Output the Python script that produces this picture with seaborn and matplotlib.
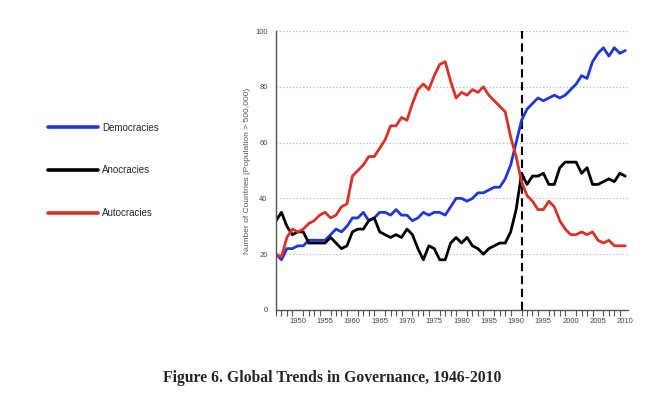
import numpy as np
import pandas as pd
import seaborn as sns
import matplotlib
matplotlib.use("Agg")
import matplotlib.pyplot as plt
from matplotlib.ticker import MultipleLocator

years = list(range(1946, 2011))
democracies = [20, 18, 22, 22, 23, 23, 25, 25, 25, 25,
               27, 29, 28, 30, 33, 33, 35, 32, 33, 35,
               35, 34, 36, 34, 34, 32, 33, 35, 34, 35,
               35, 34, 37, 40, 40, 39, 40, 42, 42, 43,
               44, 44, 47, 52, 60, 68, 72, 74, 76, 75,
               76, 77, 76, 77, 79, 81, 84, 83, 89, 92,
               94, 91, 94, 92, 93]
anocracies = [32, 35, 30, 27, 28, 28, 24, 24, 24, 24,
              26, 24, 22, 23, 28, 29, 29, 32, 33, 28,
              27, 26, 27, 26, 29, 27, 22, 18, 23, 22,
              18, 18, 24, 26, 24, 26, 23, 22, 20, 22,
              23, 24, 24, 28, 36, 49, 45, 48, 48, 49,
              45, 45, 51, 53, 53, 53, 49, 51, 45, 45,
              46, 47, 46, 49, 48]
autocracies = [20, 19, 26, 29, 28, 29, 31, 32, 34, 35,
               33, 34, 37, 38, 48, 50, 52, 55, 55, 58,
               61, 66, 66, 69, 68, 74, 79, 81, 79, 84,
               88, 89, 82, 76, 78, 77, 79, 78, 80, 77,
               75, 73, 71, 62, 55, 46, 41, 39, 36, 36,
               39, 37, 32, 29, 27, 27, 28, 27, 28, 25,
               24, 25, 23, 23, 23]
series_names = ["Democracies", "Anocracies", "Autocracies"]
marker_year = 1991

df = pd.DataFrame({
    "Year": years * 3,
    "Count": democracies + anocracies + autocracies,
    "Type": [series_names[0]] * len(years) + [series_names[1]] * len(years) + [series_names[2]] * len(years),
})

sns.set_style("white")
plt.rcParams["font.family"] = ["Liberation Sans", "DejaVu Sans"]

fig = plt.figure(figsize=(6.49, 4.0), dpi=100)
ax = fig.add_axes([276 / 649, 1 - 310 / 400, (628 - 276) / 649, (310 - 31) / 400])

palette = {"Democracies": "#2236d4", "Anocracies": "#000000", "Autocracies": "#d8312a"}
sns.lineplot(data=df, x="Year", y="Count", hue="Type", palette=palette,
             linewidth=2.0, ax=ax, legend=True)

ax.axvline(marker_year, color="black", linestyle=(0, (4, 2.2)), linewidth=1.5, zorder=1)

ax.set_xlim(1946, 2010.5)
ax.set_ylim(0, 100)
ax.set_yticks([0, 20, 40, 60, 80, 100])
ax.set_xticks(list(range(1950, 2011, 5)))
ax.xaxis.set_minor_locator(MultipleLocator(1))
ax.yaxis.grid(True, linestyle=(0, (1, 2)), color="#b0b0b0", linewidth=0.8)
ax.xaxis.grid(False)
ax.set_axisbelow(True)

for s in ["top", "right"]:
    ax.spines[s].set_visible(False)
for s in ["left", "bottom"]:
    ax.spines[s].set_color("#555555")
    ax.spines[s].set_linewidth(1.0)

ax.tick_params(axis="both", which="both", direction="out", color="#555555",
               labelsize=5.5, labelcolor="#444444", length=4, width=0.8)
ax.tick_params(axis="x", which="minor", length=4, width=0.8, bottom=True)
ax.tick_params(axis="x", which="major", pad=2)
ax.tick_params(axis="y", pad=2)

ax.set_xlabel("")
ax.set_ylabel("Number of Countries (Population > 500,000)", fontsize=6, color="#555555", labelpad=3)

handles, labels = ax.get_legend_handles_labels()
ax.get_legend().remove()
for h in handles:
    h.set_linewidth(2.6)
fig.legend(handles, labels, loc="upper left", bbox_to_anchor=(44 / 649, 1 - 119 / 400),
           frameon=False, fontsize=7, handlelength=5.2, handletextpad=0.4,
           labelspacing=3.35, borderaxespad=0)

fig.text(332 / 649, 1 - 378 / 400, "Figure 6. Global Trends in Governance, 1946-2010",
         ha="center", va="center", fontsize=11.3, fontweight="bold",
         family=["Liberation Serif", "DejaVu Serif"])

fig.savefig("out.png", dpi=100)
